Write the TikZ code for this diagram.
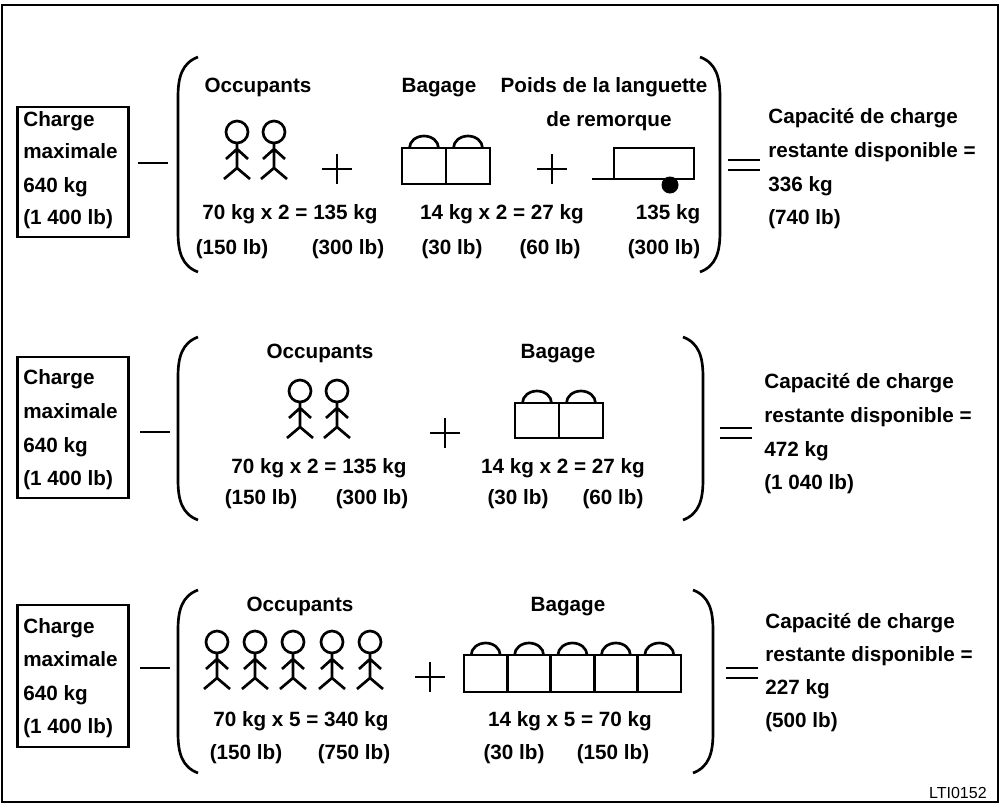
\documentclass[tikz,border=0pt]{standalone}
\usepackage{fontspec}
\setmainfont{Liberation Sans}
\begin{document}
\begin{tikzpicture}[x=0.75pt,y=-0.75pt,line width=2pt,
  t/.style={font=\bfseries\fontsize{15.5}{18}\selectfont,inner sep=0pt,anchor=base},
  tl/.style={t,anchor=base west},
  box/.style={draw,line width=1.6pt},
  man/.pic={\draw (0,0) circle (11); \draw (0,11)--(0,36) (-11,27)--(0,17)--(11,27) (-13,47)--(0,36)--(13,47);},
  plus/.pic={\draw (-15,0)--(15,0) (0,-15)--(0,15);},
  eq/.pic={\draw (-16,-5)--(16,-5) (-16,5)--(16,5);},
  minus/.pic={\draw (-15,0)--(15,0);}]
\useasboundingbox (0,0) rectangle (1001,804);
\draw[line width=1.2pt] (2,5) rectangle (998,802);
\node[font=\fontsize{12}{13}\selectfont,inner sep=0pt,anchor=base east] (code) at (988,798) {LTI0152};
\newcommand\brk[4]{% xl xr ytop ybot
 \draw (#1+20,#3) .. controls (#1+4,#3+6) and (#1,#3+20) .. (#1,#3+40) -- (#1,#4-40) .. controls (#1,#4-20) and (#1+4,#4-6) .. (#1+20,#4);
 \draw (#2-20,#3) .. controls (#2-4,#3+6) and (#2,#3+20) .. (#2,#3+40) -- (#2,#4-40) .. controls (#2,#4-20) and (#2-4,#4-6) .. (#2-20,#4);}
\newcommand\bags[5]{% x0 y0 cellw n h
 \foreach \i in {1,...,#4} {\draw ({#1+#3*(\i-1)},#2) rectangle ({#1+#3*\i},#2+#5);
   \draw ({#1+#3*(\i-0.5)-14.5},#2) arc[start angle=180,end angle=360,x radius=14.5,y radius=12];}}
% ---------- Row 1
\node[box,minimum width=111*0.75pt,minimum height=130*0.75pt] (b1) at (73,172) {};
\node[tl] (b1a) at (22,126) {Charge};
\node[tl] (b1b) at (22,158) {maximale};
\node[tl] (b1c) at (22,192) {640 kg};
\node[tl] (b1d) at (22,224) {(1 400 lb)};
\pic at (153,163) {minus};
\brk{178}{720}{57}{272}
\node[t] (o1) at (258,92) {Occupants};
\node[t] (g1) at (439,92) {Bagage};
\node[t] (p1) at (604,92) {Poids de la languette};
\node[t] (p1b) at (609,126) {de remorque};
\pic at (237,132) {man}; \pic at (274,132) {man};
\pic at (337,169) {plus};
\bags{402}{148}{44}{2}{36}
\pic at (552,169) {plus};
\draw (592,179)--(694,179)--(694,148)--(614,148)--(614,179);
\fill (670,185) circle (8.5);
\node[t] (k1a) at (290,219) {70 kg x 2 = 135 kg};
\node[t] (k1b) at (502,219) {14 kg x 2 = 27 kg};
\node[t] (k1c) at (668,219) {135 kg};
\node[t] (l1a) at (232,254) {(150 lb)};
\node[t] (l1b) at (348,254) {(300 lb)};
\node[t] (l1c) at (452,254) {(30 lb)};
\node[t] (l1d) at (550,254) {(60 lb)};
\node[t] (l1e) at (664,254) {(300 lb)};
\pic at (744,165) {eq};
\node[tl] (r1a) at (767,123) {Capacité de charge};
\node[tl] (r1b) at (767,157) {restante disponible =};
\node[tl] (r1c) at (767,191) {336 kg};
\node[tl] (r1d) at (767,224) {(740 lb)};
% ---------- Row 2
\node[box,minimum width=111*0.75pt,minimum height=141*0.75pt] (b2) at (73,427.5) {};
\node[tl] (b2a) at (22,384) {Charge};
\node[tl] (b2b) at (22,418) {maximale};
\node[tl] (b2c) at (22,452) {640 kg};
\node[tl] (b2d) at (22,485) {(1 400 lb)};
\pic at (155,432) {minus};
\brk{178}{703}{337}{520}
\node[t] (o2) at (320,358) {Occupants};
\node[t] (g2) at (558,358) {Bagage};
\pic at (300,391) {man}; \pic at (337,391) {man};
\pic at (445,433) {plus};
\bags{515}{403}{44}{2}{35}
\node[t] (k2a) at (319,473) {70 kg x 2 = 135 kg};
\node[t] (k2b) at (563,473) {14 kg x 2 = 27 kg};
\node[t] (l2a) at (261,504) {(150 lb)};
\node[t] (l2b) at (372,504) {(300 lb)};
\node[t] (l2c) at (518,504) {(30 lb)};
\node[t] (l2d) at (613,504) {(60 lb)};
\pic at (736,433) {eq};
\node[tl] (r2a) at (763,388) {Capacité de charge};
\node[tl] (r2b) at (763,422) {restante disponible =};
\node[tl] (r2c) at (763,456) {472 kg};
\node[tl] (r2d) at (763,489) {(1 040 lb)};
% ---------- Row 3
\node[box,minimum width=111*0.75pt,minimum height=142*0.75pt] (b3) at (73,676) {};
\node[tl] (b3a) at (22,633) {Charge};
\node[tl] (b3b) at (22,666) {maximale};
\node[tl] (b3c) at (22,700) {640 kg};
\node[tl] (b3d) at (22,733) {(1 400 lb)};
\pic at (155,668) {minus};
\brk{178}{713}{590}{773}
\node[t] (o3) at (300,611) {Occupants};
\node[t] (g3) at (568,611) {Bagage};
\foreach \xx in {217,255,293,332,370} {\pic at (\xx,642) {man};}
\pic at (430,677) {plus};
\bags{464}{655}{43.4}{5}{37}
\node[t] (k3a) at (301,726) {70 kg x 5 = 340 kg};
\node[t] (k3b) at (570,726) {14 kg x 5 = 70 kg};
\node[t] (l3a) at (246,759) {(150 lb)};
\node[t] (l3b) at (354,759) {(750 lb)};
\node[t] (l3c) at (514,759) {(30 lb)};
\node[t] (l3d) at (613,759) {(150 lb)};
\pic at (742,673) {eq};
\node[tl] (r3a) at (764,628) {Capacité de charge};
\node[tl] (r3b) at (764,661) {restante disponible =};
\node[tl] (r3c) at (764,694) {227 kg};
\node[tl] (r3d) at (764,727) {(500 lb)};
\end{tikzpicture}
\end{document}
